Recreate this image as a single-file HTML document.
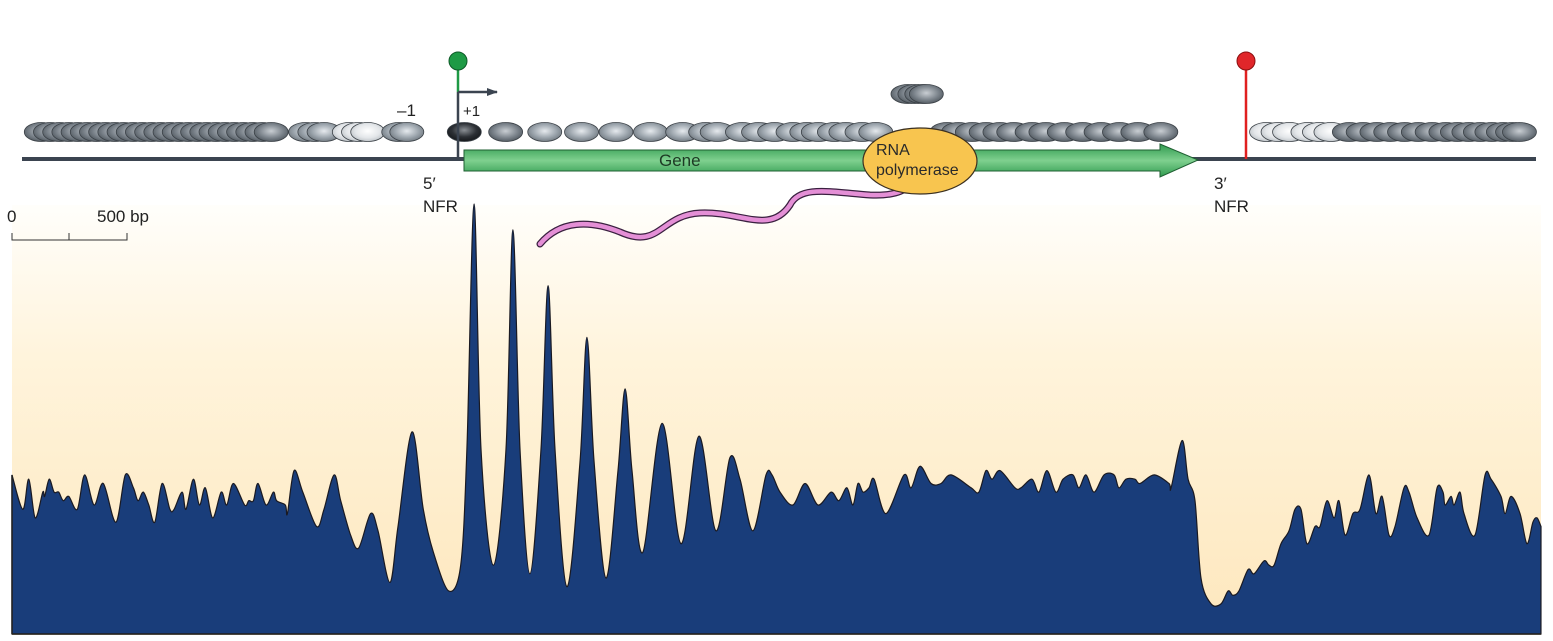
<!DOCTYPE html>
<html><head><meta charset="utf-8">
<style>
html,body{margin:0;padding:0;background:#fff;}
svg{display:block;font-family:"Liberation Sans",sans-serif;}
</style></head>
<body>
<svg id="fig" width="1553" height="641" viewBox="0 0 1553 641">
<defs>
<linearGradient id="bg" x1="0" y1="0" x2="0" y2="1">
<stop offset="0" stop-color="#fffefb"/><stop offset="0.35" stop-color="#fff4dc"/><stop offset="1" stop-color="#fde7bd"/>
</linearGradient>
<radialGradient id="nucDark" cx="0.5" cy="0.45" r="0.6"><stop offset="0" stop-color="#c9ced3"/><stop offset="0.6" stop-color="#7b838b"/><stop offset="1" stop-color="#4b535a"/></radialGradient>
<radialGradient id="nucMid" cx="0.5" cy="0.45" r="0.6"><stop offset="0" stop-color="#e6eaee"/><stop offset="0.6" stop-color="#9aa3ab"/><stop offset="1" stop-color="#6b737a"/></radialGradient>
<radialGradient id="nucLight" cx="0.5" cy="0.45" r="0.6"><stop offset="0" stop-color="#ffffff"/><stop offset="0.6" stop-color="#e3e6e9"/><stop offset="1" stop-color="#b7bdc2"/></radialGradient>
<radialGradient id="nucBlack" cx="0.5" cy="0.4" r="0.6"><stop offset="0" stop-color="#8a8f94"/><stop offset="0.6" stop-color="#2c3035"/><stop offset="1" stop-color="#15181b"/></radialGradient>
<linearGradient id="geneG" x1="0" y1="0" x2="0" y2="1"><stop offset="0" stop-color="#2f9a4e"/><stop offset="0.5" stop-color="#7fd08f"/><stop offset="1" stop-color="#2f9a4e"/></linearGradient>
<marker id="ah" markerUnits="userSpaceOnUse" markerWidth="12" markerHeight="12" refX="10" refY="6" orient="auto"><path d="M0,2 L11,6 L0,10 Z" fill="#3b4450"/></marker>
</defs>
<rect x="12" y="205" width="1529" height="430" fill="url(#bg)"/>
<g id="profile"></g>
<line x1="12" y1="634" x2="1541" y2="634" stroke="#222" stroke-width="1.5"/>
<line x1="12" y1="475" x2="12" y2="634" stroke="#222" stroke-width="1.5"/>

<g>
<text x="7" y="222" font-size="17" fill="#222">0</text>
<text x="97" y="222" font-size="17" fill="#222">500 bp</text>
<path d="M12,233 V240 H127 V233 M69,233 V240" fill="none" stroke="#333" stroke-width="1"/>
</g>

<line x1="22" y1="159" x2="1536" y2="159" stroke="#3b4450" stroke-width="4"/>
<g id="nucs"></g>

<path d="M464,150 H1160 V144 L1198,160 L1160,177 V171 H464 Z" fill="url(#geneG)" stroke="#1f5f32" stroke-width="1"/>
<text x="659" y="166" font-size="17" fill="#1d3a24">Gene</text>

<path d="M540,244 C560,220 590,220 620,232 C660,250 660,215 700,213 C740,211 770,235 790,205 C800,185 830,192 870,195 C890,196 905,192 908,185" fill="none" stroke="#3a2040" stroke-width="7" stroke-linecap="round"/>
<path d="M540,244 C560,220 590,220 620,232 C660,250 660,215 700,213 C740,211 770,235 790,205 C800,185 830,192 870,195 C890,196 905,192 908,185" fill="none" stroke="#e48fd6" stroke-width="4.5" stroke-linecap="round"/>

<ellipse cx="920" cy="161" rx="57" ry="33" fill="#f8c54f" stroke="#3b3020" stroke-width="1.2"/>
<text x="876" y="155" font-size="16" fill="#2a2a2a">RNA</text>
<text x="876" y="175" font-size="16" fill="#2a2a2a">polymerase</text>

<g>
<line x1="458" y1="68" x2="458" y2="92" stroke="#1e9a45" stroke-width="2.5"/>
<line x1="458" y1="92" x2="458" y2="159" stroke="#3b4450" stroke-width="2.5"/>
<line x1="458" y1="92" x2="497" y2="92" stroke="#3b4450" stroke-width="2.5" marker-end="url(#ah)"/>
<circle cx="458" cy="61" r="9" fill="#1e9a45" stroke="#0e5a28" stroke-width="1"/>
</g>
<text x="463" y="116" font-size="15" fill="#222">+1</text>
<text x="397" y="116" font-size="17" fill="#222">–1</text>

<g>
<line x1="1246" y1="68" x2="1246" y2="159" stroke="#e02020" stroke-width="2.5"/>
<circle cx="1246" cy="61" r="9" fill="#e0262a" stroke="#8a1010" stroke-width="1"/>
</g>

<text x="423" y="189" font-size="17" fill="#222">5′</text>
<text x="423" y="212" font-size="17" fill="#222">NFR</text>
<text x="1214" y="189" font-size="17" fill="#222">3′</text>
<text x="1214" y="212" font-size="17" fill="#222">NFR</text>
</svg>
<script>
// occupancy profile data (position in bp, relative occupancy 0-100)
const positionsBp = [0,47,73,101,134,142,162,183,203,223,247,284,316,357,397,452,493,528,548,571,595,621,653,687,705,740,757,789,815,841,873,910,934,963,1012,1030,1050,1070,1105,1137,1151,1189,1198,1227,1265,1325,1357,1401,1430,1473,1508,1560,1592,1644,1679,1740,1789,1833,1900,1952,1979,2010,2040,2094,2149,2179,2210,2253,2301,2332,2362,2414,2471,2501,2532,2584,2636,2667,2697,2744,2828,2910,2988,3062,3123,3167,3223,3280,3306,3341,3397,3450,3506,3563,3597,3632,3658,3680,3702,3728,3750,3802,3880,3911,3950,3998,4041,4085,4172,4206,4237,4263,4298,4363,4389,4437,4467,4502,4541,4572,4615,4641,4672,4707,4750,4794,4815,4846,4885,4907,4968,5033,5042,5090,5116,5146,5172,5216,5259,5290,5311,5337,5377,5403,5446,5468,5490,5520,5555,5581,5607,5633,5668,5690,5720,5751,5772,5799,5833,5864,5903,5933,5960,5990,6016,6055,6077,6112,6164,6199,6225,6234,6260,6273,6299,6316,6364,6408,6434,6477,6495,6521,6560,6590,6616,6634,6651];
const occupancy = [37,29,36,27,33,32,36,33,33,31,32,29,37,30,35,26,37,34,31,33,30,26,35,29,29,33,29,36,30,34,27,33,30,35,30,31,31,35,30,33,31,30,28,38,33,25,29,37,31,23,20,28,24,12,25,47,29,19,10,16,43,100,43,16,43,94,43,14,43,81,43,11,40,69,40,13,38,57,38,19,49,21,46,24,41,36,24,37,37,33,30,35,30,33,31,34,30,35,33,34,36,28,37,34,39,35,35,37,34,33,38,36,38,34,34,36,33,38,33,36,37,34,37,33,37,37,34,36,36,35,37,35,34,45,36,31,13,7,7,10,9,10,15,14,17,16,16,21,24,29,29,21,25,25,31,27,31,23,28,29,37,28,32,23,25,34,33,27,23,34,33,30,32,30,33,28,23,37,36,32,28,32,28,21,26,27,25];

// nucleosome track data (position in bp along the locus, shade class)
const nucPositionsBp = [
  110,150,190,230,270,310,350,390,430,470,510,550,590,630,670,710,750,790,830,870,910,950,990,1030,1070,1110,
  1260,1300,1340, 1450,1490,1530, 1665,1700,
  1950, 2130, 2300, 2460, 2610, 2760, 2900,3000,3050, 3160,3230,3300, 3380,3440,3490,3560,3610,3680,3740,
  4050,4100,4160,4220,4280,4340,4420,4480,4560,4640,4720,4800,4880,4980,
  5440,5490,5540,5620,5670,5720,5800,5860,5920,5980,6040,6100,6160,6220,6270,6320,6370,6420,6470,6510,6540
];
const nucShades = [
  "d","d","d","d","d","d","d","d","d","d","d","d","d","d","d","d","d","d","d","d","d","d","d","d","d","d",
  "m","m","m","l","l","l","m","m",
  "k","d","m","m","m","m","m","m","m","m","m","m","m","m","m","m","m","m","m",
  "d","d","d","d","d","d","d","d","d","d","d","d","d","d",
  "l","l","l","l","l","l","d","d","d","d","d","d","d","d","d","d","d","d","d","d","d"
];
const floatingNucBp = [3880,3910,3940,3960];

const X0 = 12, PX_PER_BP = 1/4.35, Y0 = 634, PX_PER_OCC = 4.3;
function xScale(bp){ return X0 + bp*PX_PER_BP; }
function yScale(v){ return Y0 - v*PX_PER_OCC; }

const NS = "http://www.w3.org/2000/svg";
const prof = document.getElementById('profile');
const pts = positionsBp.map((p,i)=>[xScale(p), yScale(occupancy[i])]);
let d = `M${pts[0][0]},${Y0} L${pts[0][0]},${pts[0][1]}`;
for(let i=0;i<pts.length-1;i++){
  const p0=pts[Math.max(0,i-1)], p1=pts[i], p2=pts[i+1], p3=pts[Math.min(pts.length-1,i+2)];
  const t=0.16;
  const c1x=p1[0]+(p2[0]-p0[0])*t, c1y=p1[1]+(p2[1]-p0[1])*t;
  const c2x=p2[0]-(p3[0]-p1[0])*t, c2y=p2[1]-(p3[1]-p1[1])*t;
  d += ` C${c1x.toFixed(1)},${c1y.toFixed(1)} ${c2x.toFixed(1)},${c2y.toFixed(1)} ${p2[0].toFixed(1)},${p2[1].toFixed(1)}`;
}
d += ` L${pts[pts.length-1][0]},${Y0} Z`;
const area = document.createElementNS(NS,'path');
area.setAttribute('d', d);
area.setAttribute('fill', '#193d7a');
area.setAttribute('stroke', '#1a1a22');
area.setAttribute('stroke-width', '1.2');


prof.appendChild(area);

const nucG = document.getElementById('nucs');
const fills = {d:'url(#nucDark)', m:'url(#nucMid)', l:'url(#nucLight)', k:'url(#nucBlack)'};
function addNuc(bp, shade, cy){
  const e = document.createElementNS(NS,'ellipse');
  e.setAttribute('cx', xScale(bp)+4);
  e.setAttribute('cy', cy);
  e.setAttribute('rx', 17);
  e.setAttribute('ry', 9.5);
  e.setAttribute('fill', fills[shade]);
  e.setAttribute('stroke', '#3a4046');
  e.setAttribute('stroke-width', '0.8');
  
  
  nucG.appendChild(e);
}
nucPositionsBp.forEach((bp,i)=>addNuc(bp, nucShades[i], 132));
floatingNucBp.forEach(bp=>addNuc(bp, 'd', 94));
</script>
</body></html>
